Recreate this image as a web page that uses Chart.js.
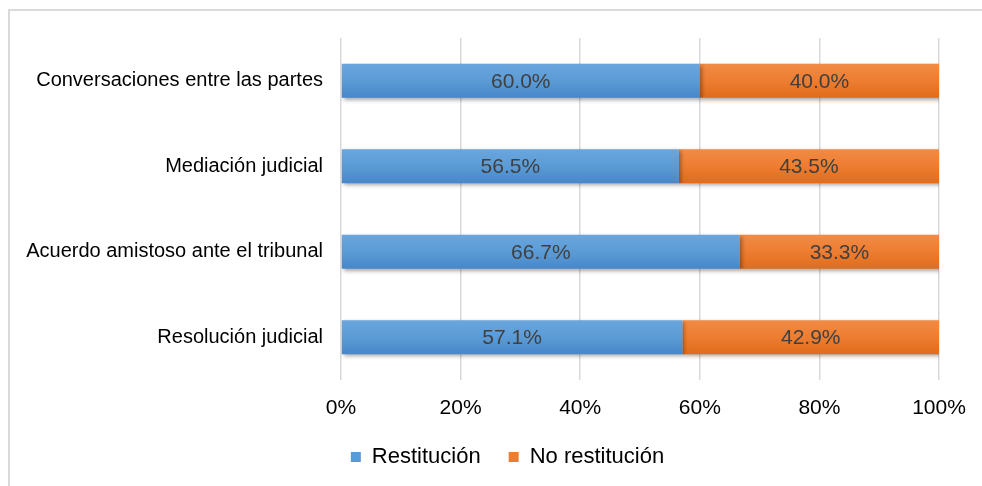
<!DOCTYPE html>
<html>
<head>
<meta charset="utf-8">
<script src="https://cdn.jsdelivr.net/npm/chart.js@4/dist/chart.umd.min.js"></script>
<style>
  html, body { margin: 0; padding: 0; background: #fff; }
  #wrap { position: relative; width: 982px; height: 486px; overflow: hidden; }
  #frame { position: absolute; left: 8px; top: 9px; width: 2000px; height: 2000px;
           border-left: 2px solid #d9d9d9; border-top: 2px solid #d9d9d9; pointer-events: none; }
  canvas { position: absolute; left: 0; top: 0; }
</style>
</head>
<body>
<div id="wrap">
  <div id="frame"></div>
  <canvas id="c" width="982" height="486"></canvas>
</div>
<script>
const categories = [
  "Conversaciones entre las partes",
  "Mediación judicial",
  "Acuerdo amistoso ante el tribunal",
  "Resolución judicial"
];
const restitucion = [60.0, 56.5, 66.7, 57.1];
const noRestitucion = [40.0, 43.5, 33.3, 42.9];
const seriesNames = ["Restitución", "No restitución"];
const xTicks = [0, 20, 40, 60, 80, 100];

const FONT = "'Liberation Sans', Arial, sans-serif";
const gradStops = [
  ['#6AA6DE', '#5B9BD5', '#4787CA'],
  ['#F28B45', '#ED7D31', '#E06C1C']
];

const styleBarsPlugin = {
  id: 'barStyle',
  afterLayout(chart) {
    const lg = chart.legend;
    if (lg) { lg.left += 38; lg.right += 38; lg.top += 2; lg.bottom += 2; }
  },
  beforeDatasetsDraw(chart) {
    const ctx = chart.ctx;
    chart.data.datasets.forEach((ds, di) => {
      const meta = chart.getDatasetMeta(di);
      meta.data.forEach(bar => {
        const p = bar.getProps(['y', 'height'], true);
        const g = ctx.createLinearGradient(0, p.y - p.height / 2, 0, p.y + p.height / 2);
        g.addColorStop(0, gradStops[di][0]);
        g.addColorStop(0.5, gradStops[di][1]);
        g.addColorStop(1, gradStops[di][2]);
        bar.options = Object.assign({}, bar.options, { backgroundColor: g });
      });
    });
    ctx.save();
    ctx.shadowColor = 'rgba(0,0,0,0.35)';
    ctx.shadowBlur = 4;
    ctx.shadowOffsetX = 2;
    ctx.shadowOffsetY = 2;
  },
  afterDatasetsDraw(chart) {
    chart.ctx.restore();
  }
};

const labelPlugin = {
  id: 'barLabels',
  afterDatasetsDraw(chart) {
    const ctx = chart.ctx;
    ctx.save();
    ctx.font = "21px " + FONT;
    ctx.fillStyle = '#404040';
    ctx.textAlign = 'center';
    ctx.textBaseline = 'middle';
    chart.data.datasets.forEach((ds, di) => {
      const meta = chart.getDatasetMeta(di);
      meta.data.forEach((bar, i) => {
        const p = bar.getProps(['x', 'y', 'base'], true);
        const cx = (p.x + p.base) / 2;
        ctx.fillText(ds.data[i].toFixed(1) + '%', cx, p.y + 1);
      });
    });
    ctx.restore();
  }
};

new Chart(document.getElementById('c'), {
  type: 'bar',
  data: {
    labels: categories,
    datasets: [
      { label: seriesNames[0], data: restitucion, backgroundColor: '#5B9BD5' },
      { label: seriesNames[1], data: noRestitucion, backgroundColor: '#ED7D31' }
    ]
  },
  options: {
    indexAxis: 'y',
    responsive: false,
    animation: false,
    layout: { padding: { top: 38, right: 43, bottom: 10, left: 0 } },
    datasets: { bar: { categoryPercentage: 1, barPercentage: 0.40 } },
    scales: {
      x: {
        stacked: true,
        min: 0, max: 100,
        afterBuildTicks(scale) { scale.ticks = xTicks.map(v => ({ value: v })); },
        ticks: {
          callback: v => v + '%',
          font: { family: FONT, size: 21 },
          color: '#000',
          padding: 16,
          maxRotation: 0
        },
        grid: { color: '#d9d9d9', lineWidth: 1.5, drawTicks: false },
        border: { display: false },
        afterFit(scale) { scale.height = 36; }
      },
      y: {
        stacked: true,
        ticks: {
          font: { family: FONT, size: 20 },
          color: '#000',
          padding: 18
        },
        grid: { display: false, drawTicks: false },
        border: { display: false },
        afterFit(scale) { scale.width = 341; }
      }
    },
    plugins: {
      legend: {
        position: 'bottom',
        labels: {
          boxWidth: 10, boxHeight: 10,
          font: { family: FONT, size: 22 },
          color: '#000',
          padding: 28
        }
      },
      tooltip: { enabled: false }
    }
  },
  plugins: [styleBarsPlugin, labelPlugin]
});
</script>
</body>
</html>
